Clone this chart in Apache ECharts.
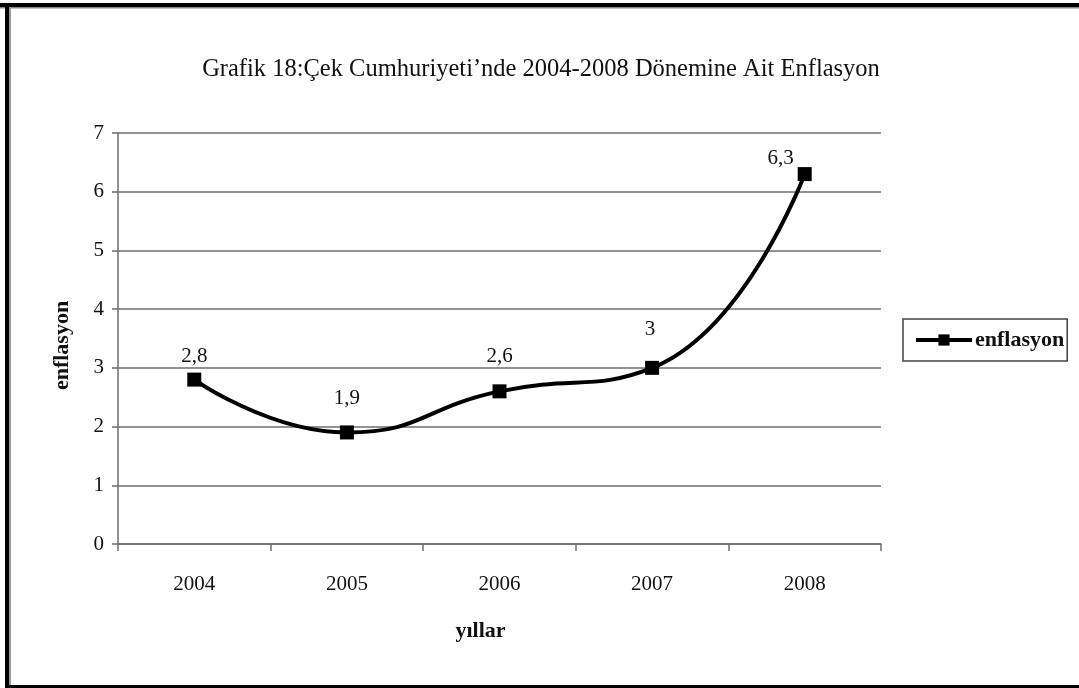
<!DOCTYPE html>
<html>
<head>
<meta charset="utf-8">
<script src="https://cdn.jsdelivr.net/npm/echarts@6/dist/echarts.min.js"></script>
<style>
html,body{margin:0;padding:0;background:#fff;}
#c{width:1079px;height:688px;}
</style>
</head>
<body>
<div id="c"></div>
<script>
var titleText = "Grafik 18:Çek Cumhuriyeti’nde 2004-2008 Dönemine Ait Enflasyon";
var years = ["2004", "2005", "2006", "2007", "2008"];
var inflation = [2.8, 1.9, 2.6, 3.0, 6.3];
var seriesName = "enflasyon";
var yAxisName = "enflasyon";
var xAxisName = "yıllar";
var labelOffsets = [[0, -1], [0, -11], [0, -12], [-2, -16], [-24, 7]];

var serif = "'Liberation Serif', 'DejaVu Serif', serif";
var chart = echarts.init(document.getElementById('c'));

var dataItems = inflation.map(function (v, i) {
  return { value: v, label: { offset: labelOffsets[i] } };
});

chart.setOption({
  animation: false,
  backgroundColor: '#ffffff',
  title: {
    text: titleText,
    left: 536,
    textAlign: 'center',
    top: 52,
    textStyle: { fontFamily: serif, fontSize: 24.5, fontWeight: 'normal', color: '#111' }
  },
  legend: {
    left: 903,
    top: 319,
    orient: 'vertical',
    itemWidth: 56,
    itemHeight: 14,
    padding: [10, 3, 10, 11],
    borderColor: '#444',
    borderWidth: 1.5,
    borderRadius: 0,
    data: [seriesName],
    lineStyle: { width: 4, color: '#000' },
    textStyle: { fontFamily: serif, fontSize: 22, fontWeight: 'bold', color: '#111', padding: [0, 0, 0, -2] }
  },
  grid: { left: 118, right: 198, top: 133, bottom: 144, containLabel: false },
  xAxis: {
    type: 'category',
    data: years,
    boundaryGap: true,
    name: xAxisName,
    nameLocation: 'middle',
    nameGap: 76,
    nameTextStyle: { fontFamily: serif, fontSize: 22, fontWeight: 'bold', color: '#111', padding: [0, 38, 0, 0] },
    axisLine: { lineStyle: { color: '#6e6e6e', width: 1.5 } },
    axisTick: { show: true, length: 7, inside: false, lineStyle: { color: '#6e6e6e', width: 1.5 } },
    axisLabel: { fontFamily: serif, fontSize: 21, color: '#111', margin: 30 },
    splitLine: { show: false }
  },
  yAxis: {
    type: 'value',
    min: 0,
    max: 7,
    interval: 1,
    name: yAxisName,
    nameLocation: 'middle',
    nameGap: 45,
    nameRotate: 90,
    nameTextStyle: { fontFamily: serif, fontSize: 22, fontWeight: 'bold', color: '#111', padding: [0, 14, 0, 0] },
    axisLine: { show: true, lineStyle: { color: '#6e6e6e', width: 1.5 } },
    axisTick: { show: true, length: 6, inside: false, lineStyle: { color: '#6e6e6e', width: 1.5 } },
    axisLabel: { fontFamily: serif, fontSize: 21, color: '#111', margin: 14 },
    splitLine: { show: true, lineStyle: { color: '#6e6e6e', width: 1.5 } }
  },
  series: [{
    name: seriesName,
    type: 'line',
    data: dataItems,
    smooth: 0.5,
    symbol: 'rect',
    symbolSize: 14,
    lineStyle: { color: '#000', width: 4 },
    itemStyle: { color: '#000' },
    label: {
      show: true,
      position: 'top',
      distance: 5,
      fontFamily: serif,
      fontSize: 21,
      color: '#111',
      formatter: function (p) { return String(p.value).replace('.', ','); }
    },
    emphasis: { disabled: true }
  }],
  graphic: [
    { type: 'rect', shape: { x: 0, y: 3, width: 1079, height: 4 }, style: { fill: '#000' }, silent: true },
    { type: 'rect', shape: { x: 0, y: 7, width: 1079, height: 1.5 }, style: { fill: '#888' }, silent: true },
    { type: 'rect', shape: { x: 5, y: 3, width: 4, height: 685 }, style: { fill: '#000' }, silent: true },
    { type: 'rect', shape: { x: 9, y: 7, width: 2, height: 680 }, style: { fill: '#999' }, silent: true },
    { type: 'rect', shape: { x: 5, y: 685, width: 1074, height: 3 }, style: { fill: '#000' }, silent: true }
  ]
});
</script>
</body>
</html>
